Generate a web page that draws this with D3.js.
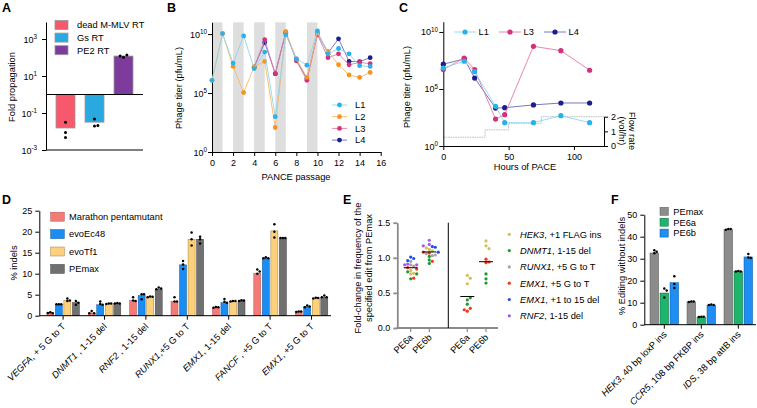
<!DOCTYPE html>
<html><head><meta charset="utf-8">
<script src="https://cdn.jsdelivr.net/npm/d3@7"></script>
<style>body{margin:0;background:#fff}svg{display:block;font-family:"Liberation Sans",Arial,Helvetica,sans-serif}</style>
</head><body><svg id="c" width="757" height="408"></svg>
<script>
// ---------- Panel A data ----------
const aCategories = ["dead M-MLV RT", "Gs RT", "PE2 RT"];
const aBarValues = [0.0155, 0.032, 120];
const aDots = [[0.032, 0.0087, 0.0047], [0.048, 0.02, 0.021], [102, 138, 120]];
const aTickExps = [-3, -1, 1, 3];
// ---------- Panel B data ----------
const bPassages = [0,1,2,3,4,5,6,7,8,9,10,11,12,13,14,15];
const bPassagesLate = [4,5,6,7,8,9,10,11,12,13,14,15];
const bL1 = [1.2e6,1.1e10,3.5e7,7e9,1.2e7,3e8,1e3,8.7e9,8e7,2.3e7,1.9e10,2e8,6e8,2.1e8,2.1e7,1.8e7];
const bL2 = [1.2e6,1.1e10,1.8e7,1.1e5,1.7e7,4.8e7,1.2e2,1.5e10,8e7,2.1e6,1.2e10,3.4e8,2.5e7,3.4e6,2.1e6,5.6e6];
const bL3 = [1.6e7,3.3e9,4.4e6,1.5e10,5.5e7,1.2e6,8.7e9,1e8,2.1e8,2.5e7,4e7,3.1e7];
const bL4 = [1.6e7,1.9e9,4.4e6,1.3e10,6.3e7,1.6e6,1.2e10,2.5e8,4e9,4.8e7,4.6e7,1e8];
const bShaded = [[0,1],[2,3],[4,5],[6,7],[9,10]];
const bXTicks = [0,2,4,6,8,10,12,14,16];
const bYTickExps = [0,5,10];
// ---------- Panel C data ----------
const cHours = [0,16,24,40,47,69,90,112];
const cL1 = [6.9e6,2.7e7,3.3e6,3e3,1.1e2,1.1e2,4.6e2,1.1e2];
const cL3 = [5e6,5.2e7,5e6,2.3e2,5.6e2,5.5e8,2.3e8,4.4e6];
const cL4 = [1.5e7,4.3e7,9.1e5,2.1e3,2.3e3,4e3,5.9e3,5.9e3];
const cFlowHours = [0,32,50,75,123];
const cFlowRate = [0.6,1.1,1.55,2,2];
const cXTicks = [0,50,100];
const cYTickExps = [0,5,10];
const cFlowTicks = [0,1,2];
// ---------- Panel D data ----------
const dGenes = ["VEGFA","DNMT1","RNF2","RUNX1","EMX1","FANCF","EMX1"];
const dEdits = [", + 5 G to T"," , 1-15 del"," , 1-15 del",",+5 G to T",", 1-15 del"," , +5 G to T",", +5 G to T"];
const dSeries = ["Marathon pentamutant","evoEc48","evoTf1","PEmax"];
const dMarathon = [0.7,0.65,3.6,3.4,1.95,10.1,0.95];
const dEvoEc48 = [2.7,2.6,4.8,12.1,3.1,13.7,2.1];
const dEvoTf1 = [3.6,2.8,4.5,18.2,3.4,20.2,4.2];
const dPEmax = [3.1,2.9,6.3,18.2,3.5,18.5,4.4];
const dMarathonDots = [[0.8,0.6,0.65],[1.1,0.6,0.6],[4.4,3.6,3.5],[4.4,3.4,3.4],[2.1,2.0,1.9],[11.0,10.5,10.0],[1.0,1.0,0.9]];
const dEvoEc48Dots = [[2.7,2.7,2.75],[3.4,2.8,2.6],[5.1,5.1,3.9],[13.0,12.2,11.1],[4.0,3.3,3.1],[13.9,13.7,13.7],[2.4,2.2,2.0]];
const dEvoTf1Dots = [[4.1,3.6,3.5],[2.9,2.9,2.8],[4.6,4.5,4.4],[19.8,18.2,16.7],[3.5,3.5,3.4],[21.8,20.0,18.6],[4.3,4.2,4.1]];
const dPEmaxDots = [[3.5,3.1,2.6],[3.0,2.9,2.9],[6.7,6.5,6.3],[18.8,18.2,17.2],[3.7,3.6,3.5],[18.5,18.5,18.5],[4.8,4.4,4.4]];
const dYTicks = [0,5,10,15,20,25];
// ---------- Panel E data ----------
const eColumns = ["PE6a","PE6b","PE6a ","PE6b "];
const eCatGenes = ["HEK3","DNMT1","RUNX1","EMX1","EMX1","RNF2"];
const eCatEdits = [", +1 FLAG ins",", 1-15 del",", +5 G to T",", +5 G to T",", +1 to 15 del",", 1-15 del"];
const eHEK3 = [[0.82,0.78,0.77],[1.12,1.10,1.14],[0.75,0.71,0.63],[1.24,1.17,1.13]];
const eDNMT1 = [[0.80,0.77,0.70],[0.92,0.97,1.02],[0.40,0.34,0.43],[0.77,0.70,0.64]];
const eRUNX1 = [[0.95,0.90,0.88],[1.06,1.03,1.04],[],[]];
const eEMX1sub = [[0.86,0.84,0.71],[1.07,1.08,0.95],[0.24,0.28,0.26],[0.98,0.94,0.93]];
const eEMX1del = [[1.01,0.99,0.96],[1.16,1.15,1.08],[],[]];
const eRNF2 = [[0.90,0.90,0.91],[1.25,1.19,1.17],[],[]];
const eYTicks = [0,0.5,1.0,1.5];
// ---------- Panel F data ----------
const fGenes = ["HEK3","CCR5","IDS"];
const fEdits = [", 40 bp loxP ins",", 108 bp FKBP ins",", 38 bp attB ins"];
const fSeries = ["PEmax","PE6a","PE6b"];
const fPEmax = [32.6,10.4,43.2];
const fPE6a = [14.4,3.5,24.2];
const fPE6b = [19.1,8.9,30.8];
const fPEmaxDots = [[33.8,33.2,32.5],[10.6,10.6,10.3],[43.5,43.5,43.2]];
const fPE6aDots = [[16.5,15.5,12.4],[3.6,3.6,3.5],[24.4,24.2,24.2]];
const fPE6bDots = [[22,18.5,16.7],[9.2,9.0,9.0],[32.1,30.6,30.3]];
const fYTicks = [0,10,20,30,40,50];

// ---------- helpers ----------
const svg = d3.select("#c");
const TF = 9, LF = 9.3;
function supText(g, x, y, exp, anchor) {
  const t = g.append("text").attr("x", x).attr("y", y).attr("text-anchor", anchor || "end").attr("font-size", TF);
  t.append("tspan").text("10");
  t.append("tspan").attr("dy", -3.6).attr("font-size", 6.3).text(exp);
  return t;
}
function vTitle(g, x, y, lines, fs) {
  const t = g.append("text").attr("transform", `translate(${x},${y}) rotate(-90)`).attr("text-anchor", "middle").attr("font-size", fs || LF);
  lines.forEach((l, i) => t.append("tspan").attr("x", 0).attr("dy", i ? "1.15em" : 0).text(l));
  return t;
}
function letter(x, y, s) { svg.append("text").attr("x", x).attr("y", y).attr("font-weight", "bold").attr("font-size", 12.5).text(s); }
function swarm(vals, ys, cx, r, step) {
  const placed = [];
  return vals.map(v => {
    const y = ys(v);
    for (let k = 0; k < 60; k++) {
      const o = k === 0 ? 0 : (k % 2 ? 1 : -1) * Math.ceil(k / 2) * step;
      const x = cx + o;
      if (placed.every(p => (p.x - x) ** 2 + (p.y - y) ** 2 >= (2 * r) ** 2 * 0.85)) { placed.push({x, y}); return {x, y}; }
    }
    return {x: cx, y};
  });
}
function styleAxis(g, color, w) {
  g.selectAll("path.domain").attr("stroke", color || "#000").attr("stroke-width", w || 1);
  g.selectAll(".tick line").attr("stroke", color || "#000").attr("stroke-width", w || 1);
  g.selectAll(".tick text").attr("font-size", TF).attr("font-family", null).attr("fill", "#000");
  g.attr("font-family", null);
}
function rotLabel(g, x, y, italic, rest, fs) {
  const t = g.append("text").attr("transform", `translate(${x},${y}) rotate(-45)`).attr("text-anchor", "end").attr("font-size", fs || LF);
  t.append("tspan").attr("font-style", "italic").text(italic);
  t.append("tspan").text(rest);
}

// ================= Panel A =================
{
  const g = svg.append("g");
  letter(2, 12, "A");
  const y = d3.scaleLog().domain([1e-3, Math.pow(10, 3.92)]).range([150, 22]);
  const x = d3.scalePoint().domain(aCategories).range([65.5, 123.5]);
  const colors = ["#F5596B", "#2AA9E0", "#7D3C9B"];
  const bw = 19;
  aCategories.forEach((c, i) => {
    const v = aBarValues[i];
    g.append("rect").attr("x", x(c) - bw / 2).attr("y", Math.min(y(v), y(1))).attr("width", bw)
      .attr("height", Math.abs(y(v) - y(1))).attr("fill", colors[i]).attr("stroke", "#9a9a9a").attr("stroke-width", 0.8);
  });
  const ax = g.append("g").attr("transform", "translate(46,0)")
    .call(d3.axisLeft(y).tickValues(aTickExps.map(e => Math.pow(10, e))).tickSize(4).tickSizeOuter(0).tickFormat(""));
  styleAxis(ax);
  aTickExps.forEach(e => supText(g, 37, y(Math.pow(10, e)) + 3.5, e));
  g.append("line").attr("x1", 46).attr("x2", 143).attr("y1", y(1)).attr("y2", y(1)).attr("stroke", "#000");
  g.append("line").attr("x1", 46).attr("x2", 143).attr("y1", 150).attr("y2", 150).attr("stroke", "#000");
  aCategories.forEach((c, i) => {
    swarm(aDots[i], y, x(c), 1.5, 3.4).forEach(p =>
      g.append("circle").attr("cx", p.x).attr("cy", p.y).attr("r", 1.5).attr("fill", "#000"));
  });
  vTitle(g, 15, 87, ["Fold propagation"]);
  aCategories.forEach((c, i) => {
    const yy = 25 + i * 12.6;
    g.append("rect").attr("x", 55).attr("y", yy - 4.5).attr("width", 13).attr("height", 9).attr("fill", colors[i]).attr("stroke", "#9a9a9a").attr("stroke-width", 0.8);
    g.append("text").attr("x", 77).attr("y", yy + 3.3).attr("font-size", LF).text(c);
  });
}

// ================= Panel B =================
{
  const g = svg.append("g");
  letter(167, 12, "B");
  const x = d3.scaleLinear().domain([0, 16]).range([212, 380.7]);
  const y = d3.scaleLog().domain([1, 1e11]).range([152, 22.3]);
  bShaded.forEach(s => g.append("rect").attr("x", x(s[0])).attr("y", 22.3).attr("width", x(s[1]) - x(s[0])).attr("height", 152 - 22.3).attr("fill", "#dedede"));
  const ax = g.append("g").attr("transform", "translate(212,0)")
    .call(d3.axisLeft(y).tickValues(bYTickExps.map(e => Math.pow(10, e))).tickSize(4).tickSizeOuter(0).tickFormat(""));
  styleAxis(ax);
  bYTickExps.forEach(e => supText(g, 207, y(Math.pow(10, e)) + 3.5, e));
  const bx = g.append("g").attr("transform", "translate(0,152)")
    .call(d3.axisBottom(x).tickValues(bXTicks).tickSize(4).tickSizeOuter(0).tickPadding(4));
  styleAxis(bx);
  const series = [
    {n: "L4", xs: bPassagesLate, v: bL4, c: "#1B1F8C", lc: "#6a6ab8"},
    {n: "L3", xs: bPassagesLate, v: bL3, c: "#D4307C", lc: "#e07aaa"},
    {n: "L2", xs: bPassages, v: bL2, c: "#F7941D", lc: "#f8b868"},
    {n: "L1", xs: bPassages, v: bL1, c: "#27B2E8", lc: "#8fd5f2"}
  ];
  const line = d3.line().x(d => x(d[0])).y(d => y(d[1]));
  series.forEach(s => {
    const pts = s.xs.map((p, i) => [p, s.v[i]]);
    g.append("path").attr("d", line(pts)).attr("fill", "none").attr("stroke", s.lc).attr("stroke-width", 0.9);
    pts.forEach(p => g.append("circle").attr("cx", x(p[0])).attr("cy", y(p[1])).attr("r", 2.4).attr("fill", s.c));
  });
  ["L1", "L2", "L3", "L4"].forEach((n, i) => {
    const s = series.find(d => d.n === n);
    const yy = 105 + i * 11.7;
    g.append("line").attr("x1", 332).attr("x2", 347).attr("y1", yy).attr("y2", yy).attr("stroke", s.lc).attr("stroke-width", 0.9);
    g.append("circle").attr("cx", 339.5).attr("cy", yy).attr("r", 2.4).attr("fill", s.c);
    g.append("text").attr("x", 355).attr("y", yy + 3.3).attr("font-size", LF).text(n);
  });
  vTitle(g, 182, 88, ["Phage titer (pfu/mL)"]);
  g.append("text").attr("x", 296).attr("y", 180).attr("text-anchor", "middle").attr("font-size", LF).text("PANCE passage");
}

// ================= Panel C =================
{
  const g = svg.append("g");
  letter(399, 12, "C");
  const x = d3.scaleLinear().domain([0, 123]).range([443.3, 604]);
  const y = d3.scaleLog().domain([1, Math.pow(10, 10.9)]).range([146, 21.7]);
  const yf = d3.scaleLinear().domain([0, 2]).range([146, 116.7]);
  const fl = d3.line().curve(d3.curveStepAfter).x(d => x(d[0])).y(d => yf(d[1]));
  g.append("path").attr("d", fl(cFlowHours.map((h, i) => [h, cFlowRate[i]]))).attr("fill", "none")
    .attr("stroke", "#b8b8b8").attr("stroke-width", 0.9).attr("stroke-dasharray", "1.6,0.8");
  const ax = g.append("g").attr("transform", "translate(443.3,0)")
    .call(d3.axisLeft(y).tickValues(cYTickExps.map(e => Math.pow(10, e))).tickSize(4).tickSizeOuter(0).tickFormat(""));
  styleAxis(ax);
  cYTickExps.forEach(e => supText(g, 438, y(Math.pow(10, e)) + 3.5, e));
  const bx = g.append("g").attr("transform", "translate(0,146)")
    .call(d3.axisBottom(x).tickValues(cXTicks).tickSize(4).tickSizeOuter(0).tickPadding(4));
  styleAxis(bx);
  const rx = g.append("g").attr("transform", "translate(604,0)")
    .call(d3.axisRight(yf).tickValues(cFlowTicks).tickSize(4).tickSizeOuter(0).tickFormat(d3.format("d")));
  styleAxis(rx);
  const series = [
    {n: "L4", v: cL4, c: "#1B1F8C", lc: "#6a6ab8"},
    {n: "L3", v: cL3, c: "#D4307C", lc: "#e07aaa"},
    {n: "L1", v: cL1, c: "#27B2E8", lc: "#8fd5f2"}
  ];
  const line = d3.line().x(d => x(d[0])).y(d => y(d[1]));
  series.forEach(s => {
    const pts = cHours.map((h, i) => [h, s.v[i]]);
    g.append("path").attr("d", line(pts)).attr("fill", "none").attr("stroke", s.lc).attr("stroke-width", 0.9);
    pts.forEach(p => g.append("circle").attr("cx", x(p[0])).attr("cy", y(p[1])).attr("r", 2.6).attr("fill", s.c));
  });
  [["L1", 465], ["L3", 510], ["L4", 555]].forEach(([n, cx]) => {
    const s = series.find(d => d.n === n);
    g.append("line").attr("x1", cx - 11).attr("x2", cx + 11).attr("y1", 32).attr("y2", 32).attr("stroke", s.lc).attr("stroke-width", 0.9);
    g.append("circle").attr("cx", cx).attr("cy", 32).attr("r", 2.6).attr("fill", s.c);
    g.append("text").attr("x", cx + 13.5).attr("y", 35.3).attr("font-size", LF).text(n);
  });
  vTitle(g, 410, 87, ["Phage titer (pfu/mL)"]);
  g.append("text").attr("x", 525).attr("y", 170).attr("text-anchor", "middle").attr("font-size", LF).text("Hours of PACE");
  const ft = g.append("text").attr("transform", "translate(624,131) rotate(90)").attr("text-anchor", "middle").attr("font-size", LF);
  ft.append("tspan").attr("x", 0).attr("dy", "-0.55em").text("Flow rate");
  ft.append("tspan").attr("x", 0).attr("dy", "1.1em").text("(vol/hr)");
}

// ================= Panel D =================
{
  const g = svg.append("g");
  letter(2, 204, "D");
  const idx = d3.range(dGenes.length);
  const x = d3.scaleBand().domain(idx).range([42.4, 332.2]);
  const sub = d3.scaleBand().domain(dSeries).range([-16.3, 16.3]).paddingInner(0.18);
  const y = d3.scaleLinear().domain([0, 25]).range([315.7, 210.7]);
  const colors = ["#F47A76", "#1B8CF2", "#FDD07C", "#707070"];
  const strokes = ["#a85a56", "#10569a", "#a08040", "#404040"];
  const vals = [dMarathon, dEvoEc48, dEvoTf1, dPEmax];
  const dots = [dMarathonDots, dEvoEc48Dots, dEvoTf1Dots, dPEmaxDots];
  idx.forEach(i => {
    const cx = x(i) + x.bandwidth() / 2;
    dSeries.forEach((s, j) => {
      const bx = cx + sub(s);
      g.append("rect").attr("x", bx).attr("y", y(vals[j][i])).attr("width", sub.bandwidth()).attr("height", y(0) - y(vals[j][i]))
        .attr("fill", colors[j]).attr("stroke", strokes[j]).attr("stroke-width", 0.5);
      swarm(dots[j][i], y, bx + sub.bandwidth() / 2, 1.25, 2.4).forEach(p =>
        g.append("circle").attr("cx", p.x).attr("cy", p.y).attr("r", 1.25).attr("fill", "#000"));
    });
  });
  const ax = g.append("g").attr("transform", "translate(39.3,0)")
    .call(d3.axisLeft(y).tickValues(dYTicks).tickSize(4).tickSizeOuter(0).tickPadding(3));
  styleAxis(ax);
  g.append("line").attr("x1", 39.3).attr("x2", 331).attr("y1", y(0)).attr("y2", y(0)).attr("stroke", "#000");
  idx.forEach(i => {
    const cx = x(i) + x.bandwidth() / 2;
    g.append("line").attr("x1", cx).attr("x2", cx).attr("y1", y(0)).attr("y2", y(0) + 4).attr("stroke", "#000");
    rotLabel(g, cx + 3, 327, dGenes[i], dEdits[i]);
  });
  vTitle(g, 17, 263, ["% indels"]);
  dSeries.forEach((s, j) => {
    const yy = 216.7 + j * 17.4;
    g.append("rect").attr("x", 50.7).attr("y", yy - 4.5).attr("width", 13.6).attr("height", 9).attr("fill", colors[j]).attr("stroke", strokes[j]).attr("stroke-width", 0.5);
    g.append("text").attr("x", 69).attr("y", yy + 3.3).attr("font-size", LF).text(s);
  });
}

// ================= Panel E =================
{
  const g = svg.append("g");
  letter(343, 204, "E");
  const x = d3.scalePoint().domain(eColumns).range([410.7, 486]);
  const xpos = [410.7, 429.3, 467.3, 486];
  const y = d3.scaleLinear().domain([0, 1.5]).range([328, 222.7]);
  const catColors = ["#D5BE5C", "#1E9A2D", "#A4A4A4", "#F2361F", "#1F4CF2", "#9A5DF2"];
  const cats = [eHEK3, eDNMT1, eRUNX1, eEMX1sub, eEMX1del, eRNF2];
  const ax = g.append("g").attr("transform", "translate(397.3,0)")
    .call(d3.axisLeft(y).tickValues(eYTicks).tickSize(4).tickSizeOuter(0).tickPadding(3).tickFormat(d3.format(".1f")));
  styleAxis(ax, "#8a8a8a", 1.8);
  g.append("line").attr("x1", 396.4).attr("x2", 498).attr("y1", 328).attr("y2", 328).attr("stroke", "#8a8a8a").attr("stroke-width", 1.8);
  g.append("line").attr("x1", 448.3).attr("x2", 448.3).attr("y1", 222.7).attr("y2", 328).attr("stroke", "#000").attr("stroke-width", 1);
  eColumns.forEach((c, ci) => {
    const cx = xpos[ci];
    g.append("line").attr("x1", cx).attr("x2", cx).attr("y1", 328).attr("y2", 332).attr("stroke", "#8a8a8a").attr("stroke-width", 1.2);
    rotLabel(g, cx + 3, 338, "", c.trim());
    const pts = [], cols = [];
    cats.forEach((cat, k) => cat[ci].forEach(v => { pts.push(v); cols.push(catColors[k]); }));
    const mean = d3.mean(pts);
    swarm(pts, y, cx, 1.6, 3.0).forEach((p, i) =>
      g.append("circle").attr("cx", p.x).attr("cy", p.y).attr("r", 1.6).attr("fill", cols[i]));
    g.append("line").attr("x1", cx - 7).attr("x2", cx + 7).attr("y1", y(mean)).attr("y2", y(mean)).attr("stroke", "#000").attr("stroke-width", 1);
  });
  vTitle(g, 361, 268, ["Fold-change in frequency of the", "specified edit from PEmax"]);
  eCatGenes.forEach((gn, k) => {
    const yy = 234.3 + k * 16.3;
    g.append("circle").attr("cx", 509.3).attr("cy", yy).attr("r", 1.6).attr("fill", catColors[k]);
    const t = g.append("text").attr("x", 520).attr("y", yy + 3.3).attr("font-size", LF);
    t.append("tspan").attr("font-style", "italic").text(gn);
    t.append("tspan").text(eCatEdits[k]);
  });
}

// ================= Panel F =================
{
  const g = svg.append("g");
  letter(611, 204, "F");
  const idx = d3.range(fGenes.length);
  const x = d3.scaleBand().domain(idx).range([645.8, 756.8]);
  const sub = d3.scaleBand().domain(fSeries).range([-14.3, 14.3]).paddingInner(0.14);
  const y = d3.scaleLinear().domain([0, 50]).range([324.7, 214.7]);
  const colors = ["#8C8C8C", "#1FB46C", "#1E8EF2"];
  const strokes = ["#555", "#0d6a3c", "#10569a"];
  const vals = [fPEmax, fPE6a, fPE6b];
  const dots = [fPEmaxDots, fPE6aDots, fPE6bDots];
  idx.forEach(i => {
    const cx = x(i) + x.bandwidth() / 2;
    fSeries.forEach((s, j) => {
      const bx = cx + sub(s);
      g.append("rect").attr("x", bx).attr("y", y(vals[j][i])).attr("width", sub.bandwidth()).attr("height", y(0) - y(vals[j][i]))
        .attr("fill", colors[j]).attr("stroke", strokes[j]).attr("stroke-width", 0.5);
      swarm(dots[j][i], y, bx + sub.bandwidth() / 2, 1.25, 2.4).forEach(p =>
        g.append("circle").attr("cx", p.x).attr("cy", p.y).attr("r", 1.25).attr("fill", "#000"));
    });
    g.append("line").attr("x1", cx).attr("x2", cx).attr("y1", y(0)).attr("y2", y(0) + 4).attr("stroke", "#000");
    rotLabel(g, cx + 3, 335, fGenes[i], fEdits[i]);
  });
  const ax = g.append("g").attr("transform", "translate(644.3,0)")
    .call(d3.axisLeft(y).tickValues(fYTicks).tickSize(4).tickSizeOuter(0).tickPadding(3));
  styleAxis(ax);
  g.append("line").attr("x1", 644.3).attr("x2", 756).attr("y1", y(0)).attr("y2", y(0)).attr("stroke", "#000");
  vTitle(g, 625, 266, ["% Editing without indels"]);
  fSeries.forEach((s, j) => {
    const yy = 211.3 + j * 10.9;
    g.append("rect").attr("x", 660).attr("y", yy - 4).attr("width", 8.3).attr("height", 8).attr("fill", colors[j]).attr("stroke", strokes[j]).attr("stroke-width", 0.5);
    g.append("text").attr("x", 673.3).attr("y", yy + 3.3).attr("font-size", LF).text(s);
  });
}
</script></body></html>
